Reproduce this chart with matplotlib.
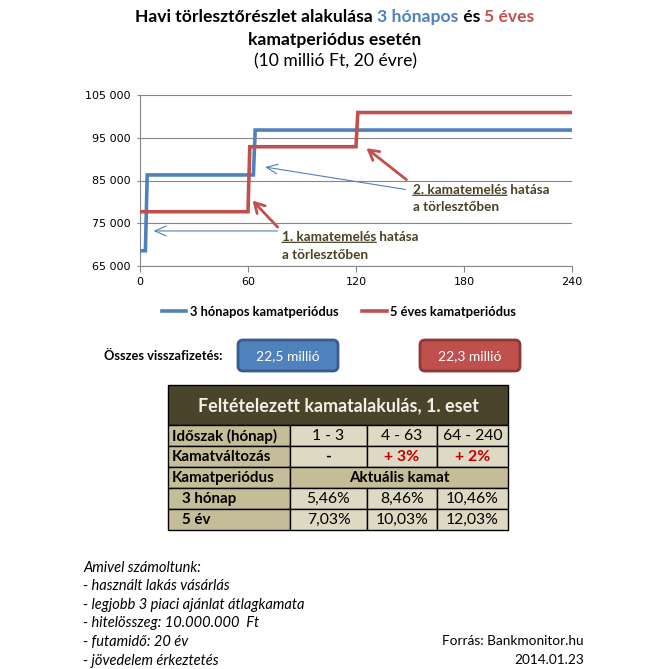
import numpy as np
import matplotlib
matplotlib.use("Agg")
import matplotlib.pyplot as plt
from matplotlib.patches import Rectangle, FancyBboxPatch
from matplotlib.lines import Line2D
from matplotlib.ticker import FuncFormatter

# ── Data ─────────────────────────────────────────────────────────────────────
pay_3m = [68560, 86300, 96800]          # monthly payment, 3 hónapos
len_3m = [3, 60, 177]                   # months in each period
pay_5y = [77700, 92900, 100900]         # monthly payment, 5 éves
len_5y = [60, 60, 120]

totals = ["22,5 millió", "22,3 millió"]

periods = ["1 - 3", "4 - 63", "64 - 240"]
changes = ["-", "+ 3%", "+ 2%"]
rate_3m = [5.46, 8.46, 10.46]
rate_5y = [7.03, 10.03, 12.03]

notes = ["Amivel számoltunk:",
         "- használt lakás vásárlás",
         "- legjobb 3 piaci ajánlat átlagkamata",
         "- hitelösszeg: 10.000.000  Ft",
         "- futamidő: 20 év",
         "- jövedelem érkeztetés"]

months = np.arange(1, 241)
series_3m = np.repeat(pay_3m, len_3m)
series_5y = np.repeat(pay_5y, len_5y)

# ── Style ────────────────────────────────────────────────────────────────────
BLUE = "#4F81BD"
BLUE_D = "#385D8A"
RED = "#C0504D"
RED_D = "#8C3836"
GRID = "#868686"
OLIVE = "#4A452A"
TAN = "#C4BD97"
LIGHT = "#DDD9C3"
NOTE = "#4A4226"
FONT = "Lato"

plt.rcParams["font.family"] = [FONT, "DejaVu Sans"]

W, H = 666, 669
fig = plt.figure(figsize=(W / 100, H / 100), dpi=100)
fig.patch.set_facecolor("white")

# overlay in pixel coordinates for all the text blocks
ov = fig.add_axes([0, 0, 1, 1])
ov.set_xlim(0, W)
ov.set_ylim(H, 0)
ov.axis("off")

# ── Chart ────────────────────────────────────────────────────────────────────
ax = fig.add_axes([140 / W, 1 - 266 / H, 432 / W, 171 / H])
ax.set_facecolor("none")
ax.plot(months, series_3m, color=BLUE, lw=2.6, solid_joinstyle="miter", zorder=3)
ax.plot(months, series_5y, color=RED, lw=2.6, solid_joinstyle="miter", zorder=3)
ax.set_xlim(0, 240)
ax.set_ylim(65000, 105000)
ax.set_xticks([0, 60, 120, 180, 240])
ax.set_yticks(np.arange(65000, 105001, 10000))
ax.yaxis.set_major_formatter(FuncFormatter(lambda v, p: f"{v:,.0f}".replace(",", " ")))
ax.grid(axis="y", color=GRID, lw=0.8)
ax.set_axisbelow(True)
for s in ["top", "right"]:
    ax.spines[s].set_visible(False)
for s in ["left", "bottom"]:
    ax.spines[s].set_color(GRID)
    ax.spines[s].set_linewidth(0.8)
ax.tick_params(axis="x", length=4, width=0.8, color=GRID, pad=4, labelsize=8)
ax.tick_params(axis="y", length=2.5, width=0.8, color=GRID, pad=4, labelsize=8)
for lab in ax.get_xticklabels() + ax.get_yticklabels():
    lab.set_fontfamily("DejaVu Sans")

# annotations
def note(x, y, head, tail):
    t1 = ax.text(x, y, head, color=NOTE, fontsize=9.7, fontweight="bold",
                 va="center", ha="left")
    ax.annotate("", xy=(0, 0.05), xycoords=t1, xytext=(1, 0.05), textcoords=t1,
                arrowprops=dict(arrowstyle="-", color=NOTE, lw=0.9,
                                shrinkA=0, shrinkB=0))
    ax.annotate(" hatása", xy=(1, 0.5), xycoords=t1, va="center", ha="left",
                color=NOTE, fontsize=9.7, fontweight="bold")
    ax.text(x, tail, "a törlesztőben", color=NOTE, fontsize=9.7,
            fontweight="bold", va="center", ha="left")

note(78.9, 71800, "1. kamatemelés", 67600)
note(151.5, 82800, "2. kamatemelés", 78800)

blue_arrow = dict(arrowstyle="->,head_length=0.8,head_width=0.35", color=BLUE,
                  lw=0.8, shrinkA=0, shrinkB=0, mutation_scale=10)
red_arrow = dict(arrowstyle="->,head_length=0.7,head_width=0.4", color=RED,
                 lw=2.0, shrinkA=0, shrinkB=0, mutation_scale=10)
ax.annotate("", xy=(7.5, 73200), xytext=(76.5, 73200), arrowprops=blue_arrow,
            annotation_clip=False)
ax.annotate("", xy=(62.5, 80300), xytext=(76.5, 74100), arrowprops=red_arrow,
            annotation_clip=False)
ax.annotate("", xy=(69.5, 88150), xytext=(147.5, 82900), arrowprops=blue_arrow,
            annotation_clip=False)
ax.annotate("", xy=(125.8, 92550), xytext=(148.0, 85200), arrowprops=red_arrow,
            annotation_clip=False)

# legend
handles = [Line2D([], [], color=BLUE, lw=2.6), Line2D([], [], color=RED, lw=2.6)]
fig.legend(handles, ["3 hónapos kamatperiódus", "5 éves kamatperiódus"],
           loc="center", bbox_to_anchor=(339 / W, 1 - 312 / H), ncol=2,
           frameon=False, handlelength=1.9, handletextpad=0.3,
           columnspacing=1.8, prop=dict(family=FONT, weight="bold", size=9.3))

# ── Title ────────────────────────────────────────────────────────────────────
TS = 12.6
title_parts = [("Havi törlesztőrészlet alakulása ", "black"), ("3 hónapos", BLUE),
               (" és ", "black"), ("5 éves", RED)]
first = ov.text(133, 17, title_parts[0][0], fontsize=TS, fontweight="bold",
                color=title_parts[0][1], va="center", ha="left")
t = first
pieces = [first]
for txt, col in title_parts[1:]:
    t = ov.annotate(txt, xy=(1, 0.5), xycoords=t, va="center", ha="left",
                    fontsize=TS, fontweight="bold", color=col)
    pieces.append(t)
ov.text(335, 40, "kamatperiódus esetén", fontsize=TS, fontweight="bold",
        ha="center", va="center")
ov.text(335, 61, "(10 millió Ft, 20 évre)", fontsize=TS, ha="center", va="center")

# centre the multi-coloured first line
fig.canvas.draw()
r = fig.canvas.get_renderer()
x_left = pieces[0].get_window_extent(r).x0
x_right = pieces[-1].get_window_extent(r).x1
shift = 335 - (x_left + x_right) / 2
first.set_x(133 + shift)

# ── Totals ───────────────────────────────────────────────────────────────────
ov.text(222, 356, "Összes visszafizetés:", fontsize=9.3, fontweight="bold",
        ha="right", va="center")
for x0, fill, edge, txt in [(238, BLUE, BLUE_D, totals[0]), (420, RED, RED_D, totals[1])]:
    ov.add_patch(FancyBboxPatch((x0, 340), 100, 31,
                                boxstyle="round,pad=0,rounding_size=5",
                                fc=fill, ec=edge, lw=2))
    ov.text(x0 + 50, 356, txt, color="white", fontsize=10, ha="center",
            va="center")

# ── Table ────────────────────────────────────────────────────────────────────
cols = [168, 290, 367, 437, 508]
top, head_h, row_h = 385, 40, 21

ov.add_patch(Rectangle((cols[0], top), cols[-1] - cols[0], head_h,
                       fc=OLIVE, ec="black", lw=1))
ov.text((cols[0] + cols[-1]) / 2, top + head_h / 2 + 1,
        "Feltételezett kamatalakulás, 1. eset", color="#F2F0E6",
        fontsize=12.9, fontweight="bold", ha="center", va="center")

fmt = lambda v: f"{v:.2f}%".replace(".", ",")
rows = [("Időszak (hónap)", periods, "black", "normal", False),
        ("Kamatváltozás", changes, "#C00000", "bold", False),
        ("Kamatperiódus", None, "black", "bold", False),
        ("3 hónap", [fmt(v) for v in rate_3m], "black", "normal", True),
        ("5 év", [fmt(v) for v in rate_5y], "black", "normal", True)]

for i, (label, vals, col, weight, indent) in enumerate(rows):
    y0 = top + head_h + i * row_h
    yc = y0 + row_h / 2 + 0.5
    ov.add_patch(Rectangle((cols[0], y0), cols[1] - cols[0], row_h,
                           fc=TAN, ec="black", lw=1))
    ov.text(cols[0] + (14 if indent else 4), yc, label, fontsize=10.9,
            fontweight="bold", ha="left", va="center")
    if vals is None:
        ov.add_patch(Rectangle((cols[1], y0), cols[-1] - cols[1], row_h,
                               fc=TAN, ec="black", lw=1))
        ov.text((cols[1] + cols[-1]) / 2, yc, "Aktuális kamat", fontsize=10.9,
                fontweight="bold", ha="center", va="center")
        continue
    for j, v in enumerate(vals):
        ov.add_patch(Rectangle((cols[j + 1], y0), cols[j + 2] - cols[j + 1],
                               row_h, fc=LIGHT, ec="black", lw=1))
        c = "black" if v == "-" else col
        ov.text((cols[j + 1] + cols[j + 2]) / 2, yc, v, fontsize=11.3,
                fontweight=weight, color=c, ha="center", va="center")

# ── Notes ────────────────────────────────────────────────────────────────────
for k, line in enumerate(notes):
    ov.text(83, 568 + k * 18.5, line, fontsize=10.5, style="italic",
            ha="left", va="center")
ov.text(584, 641, "Forrás: Bankmonitor.hu", fontsize=9.8, ha="right", va="center")
ov.text(584, 660, "2014.01.23", fontsize=9.8, ha="right", va="center")

fig.savefig("out.png", dpi=100, facecolor="white")
